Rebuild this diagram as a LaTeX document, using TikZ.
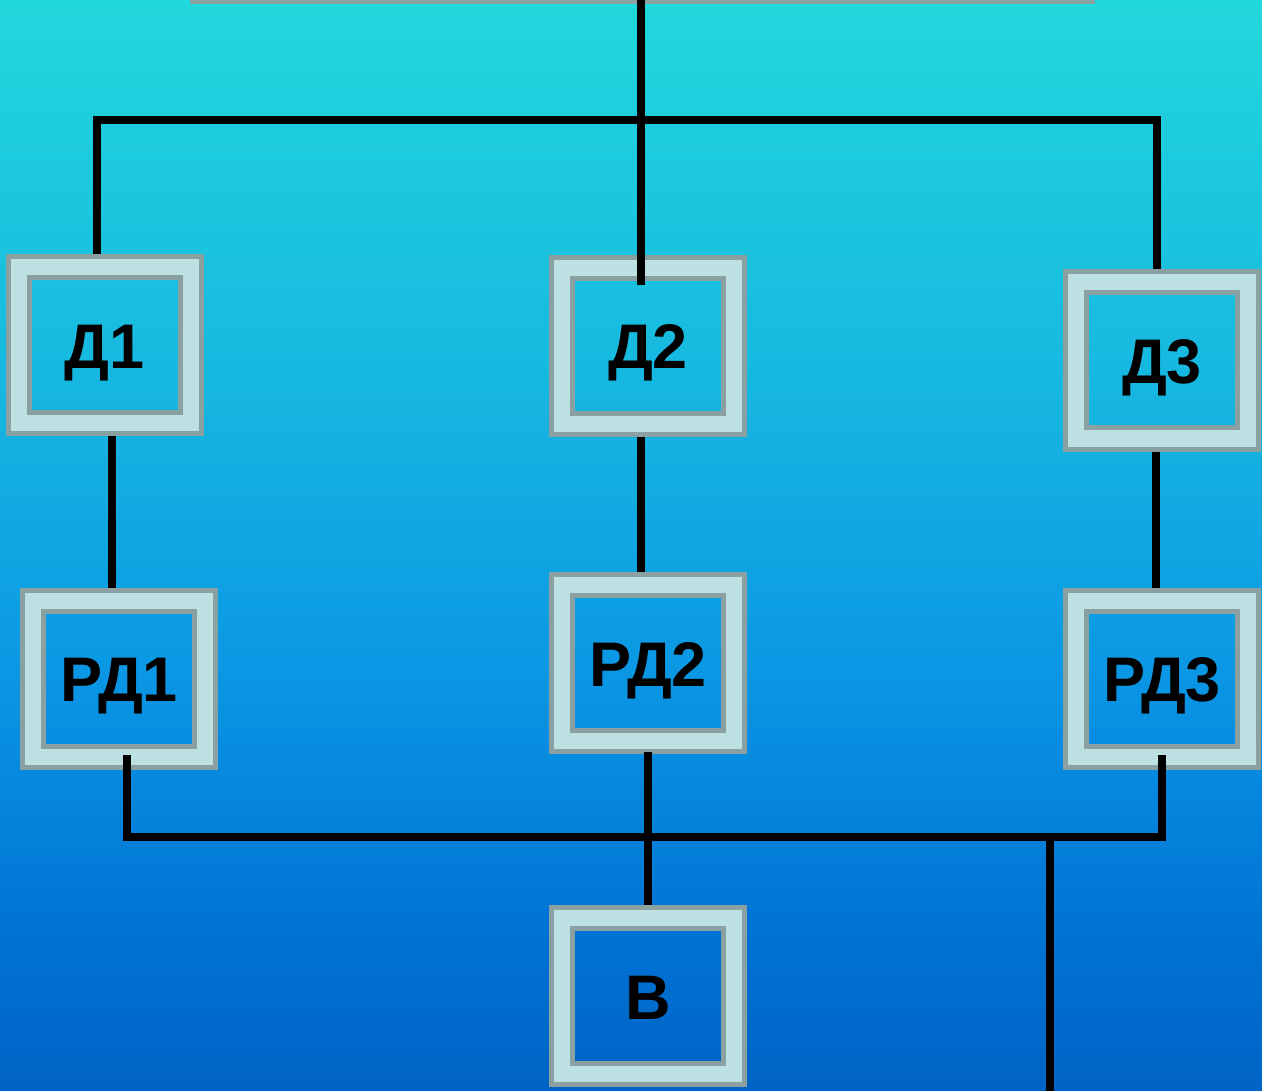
\documentclass[tikz,border=0pt]{standalone}
\usepackage{fontspec}
\setmainfont{Liberation Sans}
\usetikzlibrary{calc}
\definecolor{ctop}{RGB}{33,216,220}
\definecolor{cm1}{RGB}{22,182,224}
\definecolor{cm2}{RGB}{10,150,228}
\definecolor{cm3}{RGB}{0,114,212}
\definecolor{cbot}{RGB}{0,100,198}
\definecolor{boxlight}{RGB}{189,224,227}
\definecolor{boxgray}{RGB}{138,160,161}
\pgfdeclareverticalshading{bgshade}{100bp}{color(0bp)=(cbot); color(25bp)=(cbot); color(31.9bp)=(cm3); color(43.85bp)=(cm2); color(56.65bp)=(cm1); color(75bp)=(ctop); color(100bp)=(ctop)}
\tikzset{
  blockbox/.style={draw=boxgray, line width=5pt, double=boxlight, double distance=16pt,
    minimum width=172pt, minimum height=156pt, inner sep=0pt, outer sep=13pt,
    text height=46pt, text depth=0pt,
    font=\fontsize{63}{70}\selectfont\bfseries, text=black},
  wire/.style={line width=7.5pt, black, line join=miter}
}
\begin{document}
\begin{tikzpicture}[x=1pt,y=-1pt]
\useasboundingbox (0,0) rectangle (1262,1091);
\shade[shading=bgshade] (0,0) rectangle (1262,1091);
\fill[boxgray] (190,0) rectangle (1095,4);
% boxes
\node[blockbox] (d1) at (104.5,345.5) {Д1};
\node[blockbox] (d2) at (648,346) {Д2};
\node[blockbox] (d3) at (1162,360.5) {Д3};
\node[blockbox] (rd1) at (119,678.5) {РД1};
\node[blockbox] (rd2) at (648,663) {РД2};
\node[blockbox] (rd3) at (1162,678.5) {РД3};
\node[blockbox] (v) at (648,996) {В};
% junction coordinates
\coordinate (src) at (641,0);
\coordinate (jl) at (97,120);
\coordinate (jr) at (1157,120);
\coordinate (bl) at (127,837);
\coordinate (br) at (1162,837);
\coordinate (out) at (1050,1091);
% wires
\draw[wire] (src) -- (641,285);
\draw[wire] (jl |- d1.north) -- (jl) -- ([xshift=3.5pt]jr);
\draw[wire] (jr) -- (jr |- d3.north);
\draw[wire] ([xshift=7.5pt]d1.south) -- ([xshift=7.5pt]d1.south |- rd1.north);
\draw[wire] ([xshift=-7pt]d2.south) -- ([xshift=-7pt]d2.south |- rd2.north);
\draw[wire] ([xshift=-6pt]d3.south) -- ([xshift=-6pt]d3.south |- rd3.north);
\draw[wire] ([xshift=8pt,yshift=15pt]rd1.south) -- (bl) -- (br) -- ([yshift=15pt]rd3.south);
\draw[wire] ([yshift=2pt]rd2.south) -- (v.north);
\draw[wire] (out |- bl) -- (out);
\end{tikzpicture}
\end{document}
